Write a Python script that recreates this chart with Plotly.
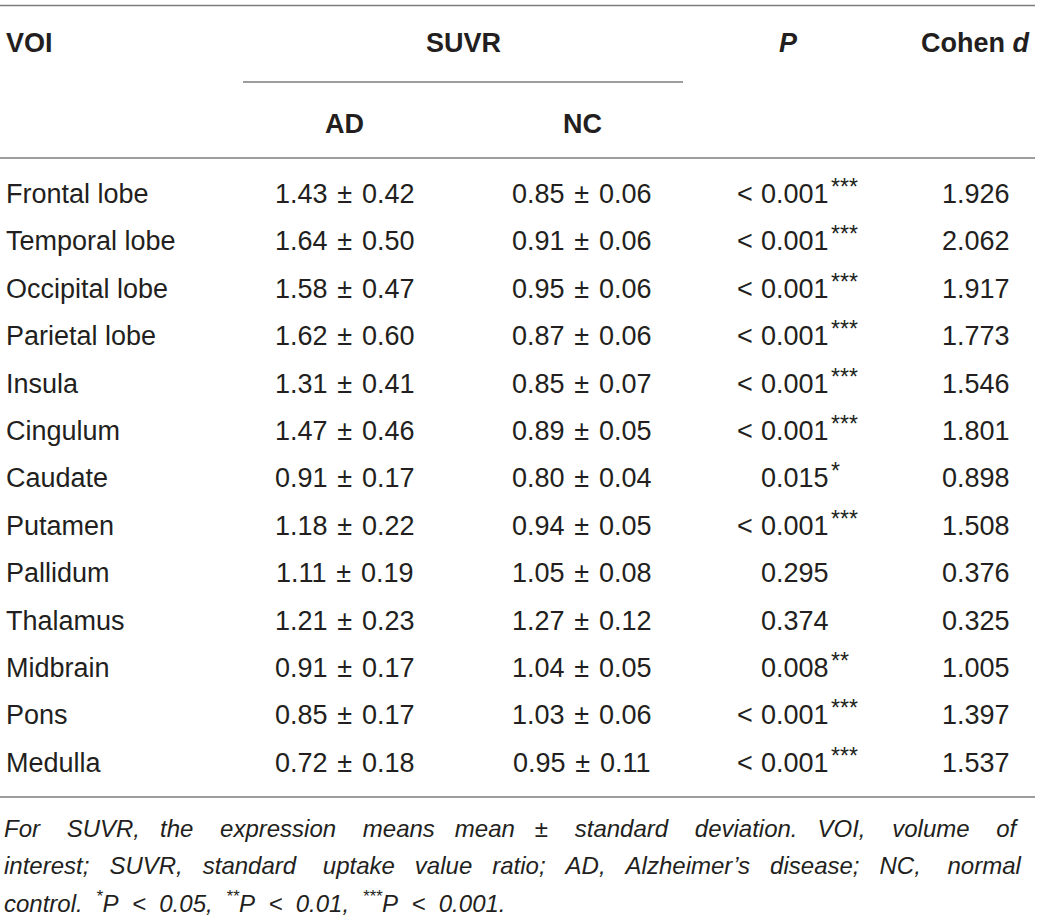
import plotly.graph_objects as go

# ---------------- data ----------------
voi = ["Frontal lobe", "Temporal lobe", "Occipital lobe", "Parietal lobe", "Insula",
       "Cingulum", "Caudate", "Putamen", "Pallidum", "Thalamus", "Midbrain", "Pons", "Medulla"]
ad_mean = [1.43, 1.64, 1.58, 1.62, 1.31, 1.47, 0.91, 1.18, 1.11, 1.21, 0.91, 0.85, 0.72]
ad_sd = [0.42, 0.50, 0.47, 0.60, 0.41, 0.46, 0.17, 0.22, 0.19, 0.23, 0.17, 0.17, 0.18]
nc_mean = [0.85, 0.91, 0.95, 0.87, 0.85, 0.89, 0.80, 0.94, 1.05, 1.27, 1.04, 1.03, 0.95]
nc_sd = [0.06, 0.06, 0.06, 0.06, 0.07, 0.05, 0.04, 0.05, 0.08, 0.12, 0.05, 0.06, 0.11]
p_values = ["<0.001", "<0.001", "<0.001", "<0.001", "<0.001", "<0.001", "0.015",
            "<0.001", "0.295", "0.374", "0.008", "<0.001", "<0.001"]
p_stars = ["***", "***", "***", "***", "***", "***", "*", "***", "", "", "**", "***", "***"]
cohen_d = ["1.926", "2.062", "1.917", "1.773", "1.546", "1.801", "0.898", "1.508",
           "0.376", "0.325", "1.005", "1.397", "1.537"]

header_voi = "VOI"
header_suvr = "SUVR"
header_groups = ["AD", "NC"]
header_p = "<i>P</i>"
header_d = "Cohen <i>d</i>"

foot_lines = [
    ["For", "SUVR,", "the", "expression", "means", "mean", "±", "standard", "deviation.",
     "VOI,", "volume", "of"],
    ["interest;", "SUVR,", "standard", "uptake", "value", "ratio;", "AD,", "Alzheimer’s",
     "disease;", "NC,", "normal"],
    ["control.", "<sup>*</sup>P", "&lt;", "0.05,", "<sup>**</sup>P", "&lt;", "0.01,",
     "<sup>***</sup>P", "&lt;", "0.001."],
]
foot_gaps = [
    [4, 3, 4, 4, 3, 3, 4, 4, 3, 4, 4],
    [3, 3, 4, 3, 3, 3, 3, 3, 3, 4],
    [2, 2, 2, 2, 2, 2, 2, 2, 2],
]

# ---------------- layout / style ----------------
W, H = 1043, 919
TXT = "#231f20"
LINE = "#7d7d7d"
FONT = "Liberation Sans, Arial, sans-serif"
BODY = 27
FOOT = 24
STAR = 23

row_y0, row_step = 194, 47.4
x_voi, x_ad, x_nc, x_p, x_d = 4, 344, 581, 759, 976
PM = "\u00a0\u200a±\u200a\u00a0"

ann = []


def add(text, x, y, anchor="center", size=BODY, bold=False, italic=False):
    t = text
    if italic:
        t = "<i>" + t + "</i>"
    if bold:
        t = "<b>" + t + "</b>"
    ann.append(dict(text=t, x=x, y=y, xref="x", yref="y", xanchor=anchor, yanchor="middle",
                    showarrow=False, font=dict(family=FONT, size=size, color=TXT)))


# headers
add(header_voi, 4, 43, "left", bold=True)
add(header_suvr, 463, 43, bold=True)
add(header_groups[0], x_ad, 124, bold=True)
add(header_groups[1], 582, 124, bold=True)
add(header_p, 788, 43, bold=True)
add(header_d, 975, 43, bold=True)

# body
for i, name in enumerate(voi):
    y = row_y0 + i * row_step
    add(name, x_voi, y, "left")
    add(f"{ad_mean[i]:.2f}{PM}{ad_sd[i]:.2f}", x_ad, y)
    add(f"{nc_mean[i]:.2f}{PM}{nc_sd[i]:.2f}", x_nc, y)
    pv = p_values[i]
    if pv.startswith("<"):
        add("&lt;", x_p - 4, y, "right")
        pv = pv[1:]
    add(pv, x_p, y, "left")
    if p_stars[i]:
        add(p_stars[i], x_p + 70, y - 7, "left", size=STAR)
    add(cohen_d[i], x_d, y)

# footnote
NB = "\u00a0"
foot_y = [828, 865, 902]
for k, words in enumerate(foot_lines):
    s = words[0]
    for w, g in zip(words[1:], foot_gaps[k]):
        s += NB * g + w
    add(s, 2, foot_y[k], "left", size=FOOT, italic=True)

shapes = []
for (x0, x1, y) in [(0, 1035, 5.5), (243, 683, 82), (0, 1035, 158), (0, 1035, 797)]:
    shapes.append(dict(type="line", xref="x", yref="y", x0=x0, x1=x1, y0=y, y1=y,
                       line=dict(color=LINE, width=1.5)))

fig = go.Figure()
fig.update_layout(
    width=W, height=H, margin=dict(l=0, r=0, t=0, b=0),
    paper_bgcolor="white", plot_bgcolor="white", showlegend=False,
    xaxis=dict(range=[0, W], visible=False, fixedrange=True),
    yaxis=dict(range=[H, 0], visible=False, fixedrange=True),
    annotations=ann, shapes=shapes,
)
fig.write_html("out.html", config={"displayModeBar": False},
               post_script="document.body.style.margin='0';")
